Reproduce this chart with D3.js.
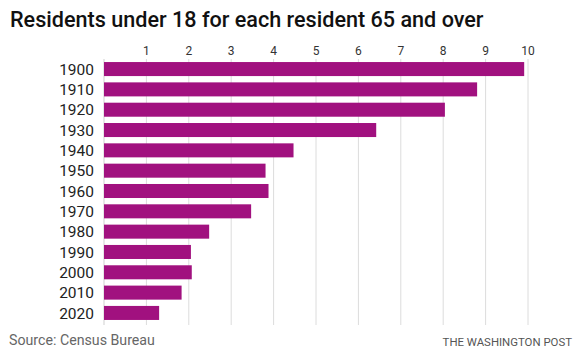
<!DOCTYPE html>
<html>
<head>
<meta charset="utf-8">
<script src="https://cdn.jsdelivr.net/npm/d3@7"></script>
<style>
  body { margin: 0; background: #fff; }
  text { font-family: "Roboto", "Liberation Sans", sans-serif; }
</style>
</head>
<body>
<svg id="chart"></svg>
<script>
//  chart data
const years = ["1900", "1910", "1920", "1930", "1940", "1950", "1960", "1970", "1980", "1990", "2000", "2010", "2020"];
const ratio = [9.91, 8.80, 8.04, 6.42, 4.47, 3.81, 3.88, 3.47, 2.48, 2.05, 2.07, 1.83, 1.30];
const tick_values = [1, 2, 3, 4, 5, 6, 7, 8, 9, 10];

const w = 576
const h = 354
const margin = ({top: 59, right: 48, bottom: 31, left: 104})

const svg = d3.select("#chart").attr("width", w).attr("height", h)

const x = d3.scaleLinear().domain([0, 10]).range([margin.left, w - margin.right])
const y = d3.scaleBand().domain(years).range([margin.top, h - margin.bottom]).paddingInner(0.31).paddingOuter(0.15)

//  title
svg.append("text")
   .attr("x", 10)
   .attr("y", 27)
   .text("Residents under 18 for each resident 65 and over")
   .style("font-size", "21.6px")
   .style("font-weight", "500")
   .style("fill", "#111");

//  gridlines
svg.selectAll("line.grid")
   .data(tick_values).enter()
   .append("line")
   .attr("class", "grid")
   .attr("x1", d => x(d))
   .attr("x2", d => x(d))
   .attr("y1", margin.top)
   .attr("y2", h - margin.bottom + 2)
   .style("stroke", "#dcdcdc")
   .style("stroke-width", 1);

//  left axis line
svg.append("line")
   .attr("x1", x(0))
   .attr("x2", x(0))
   .attr("y1", margin.top)
   .attr("y2", h - margin.bottom + 2)
   .style("stroke", "#cfcfcf");

//  tick labels
svg.selectAll("text.tick")
   .data(tick_values).enter()
   .append("text")
   .attr("class", "tick")
   .attr("x", d => x(d))
   .attr("y", 55)
   .attr("text-anchor", "middle")
   .text(d => d)
   .style("font-size", "12px")
   .style("fill", "#333");

//  bars
svg.selectAll("rect.bar")
   .data(years).enter()
   .append("rect")
   .attr("class", "bar")
   .attr("x", x(0))
   .attr("y", d => y(d))
   .attr("width", (d, i) => x(ratio[i]) - x(0))
   .attr("height", y.bandwidth())
   .attr("fill", "#a1117f");

//  year labels
svg.selectAll("text.year")
   .data(years).enter()
   .append("text")
   .attr("class", "year")
   .attr("x", 94)
   .attr("y", d => y(d) + y.bandwidth() / 2)
   .attr("dy", "0.36em")
   .attr("text-anchor", "end")
   .text(d => d)
   .style("font-size", "15.5px")
   .style("fill", "#222");

//  footer
svg.append("text")
   .attr("x", 9)
   .attr("y", 345)
   .text("Source: Census Bureau")
   .style("font-size", "14.2px")
   .style("fill", "#666");

svg.append("text")
   .attr("x", 572)
   .attr("y", 346)
   .attr("text-anchor", "end")
   .text("THE WASHINGTON POST")
   .style("font-size", "11.4px")
   .style("fill", "#555");
</script>
</body>
</html>
